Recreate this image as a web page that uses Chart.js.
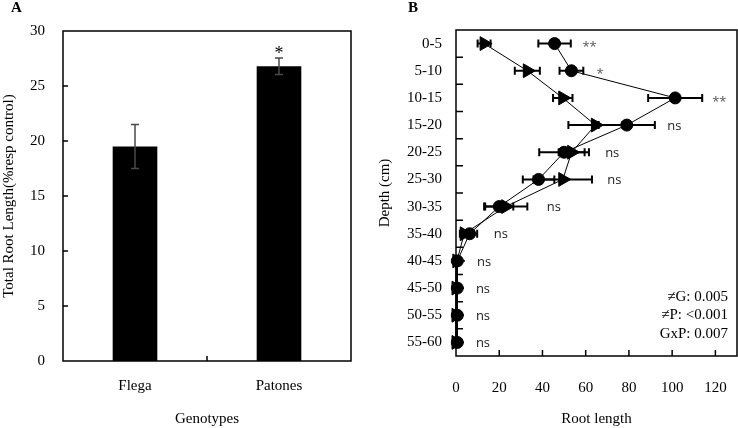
<!DOCTYPE html>
<html>
<head>
<meta charset="utf-8">
<script src="https://cdn.jsdelivr.net/npm/chart.js@4.4.0/dist/chart.umd.min.js"></script>
<style>
  html, body { margin: 0; padding: 0; background: #fff; }
  #wrap { position: relative; width: 738px; height: 428px; overflow: hidden; }
  canvas { position: absolute; top: 0; }
  #ca { left: 0; }
  #cb { left: 370px; }
  .tag { position: absolute; top: -1px; font: bold 15px "Liberation Serif", serif; }
</style>
</head>
<body>
<div id="wrap">
  <canvas id="ca" width="370" height="428"></canvas>
  <canvas id="cb" width="368" height="428"></canvas>
  <div class="tag" style="left:11px">A</div>
  <div class="tag" style="left:408px">B</div>
</div>
<script>
// panel A
const genotypes = ['Flega', 'Patones'];
const totalRoot = [19.5, 26.8];
const totalRootErr = [2.0, 0.75];
const totalRootSig = ['', '*'];

// panel B
const depths = ['0-5', '5-10', '10-15', '15-20', '20-25', '25-30', '30-35', '35-40', '40-45', '45-50', '50-55', '55-60'];
const circleLength = [45.6, 53.4, 101.4, 79, 50, 38.2, 20, 6.3, 0.6, 0.6, 0.6, 0.6];
const circleErr = [7.5, 5.5, 12.5, 13, 11.5, 7.3, 6.5, 3.5, 0.4, 0.3, 0.3, 0.3];
const triangleLength = [13, 33, 49.4, 64.5, 53.5, 49.4, 23, 3.8, 0.4, 0, 0, 0];
const triangleErr = [3, 5.8, 4.5, 12.5, 6, 13.5, 10, 2, 0.3, 0.2, 0.2, 0.2];
const depthSig = ['**', '*', '**', 'ns', 'ns', 'ns', 'ns', 'ns', 'ns', 'ns', 'ns', 'ns'];
const depthSigX = [58.5, 65, 118.5, 97.7, 69, 70, 42, 17.5, 9.7, 9.2, 9.2, 9.2];
const statsLines = ['\u2260G: 0.005', '\u2260P: <0.001', 'GxP: 0.007'];

const serif = '"Liberation Serif", "Times New Roman", serif';
Chart.defaults.font.family = serif;
Chart.defaults.font.size = 15;
Chart.defaults.color = '#000';

// 枠と内向きの目盛り
const frame = {
  id: 'frame',
  afterDraw(chart, args, opts) {
    const { ctx, chartArea: a } = chart;
    ctx.save();
    ctx.strokeStyle = '#000';
    ctx.lineWidth = 1.5;
    ctx.strokeRect(a.left, a.top, a.right - a.left, a.bottom - a.top);
    ctx.beginPath();
    (opts.xTicks || []).forEach(v => {
      const px = chart.scales.x.getPixelForValue(v);
      ctx.moveTo(px, a.bottom);
      ctx.lineTo(px, a.bottom - opts.xLen);
    });
    (opts.yTicks || []).forEach(v => {
      const py = chart.scales.y.getPixelForValue(v);
      ctx.moveTo(a.left, py);
      ctx.lineTo(a.left + opts.yLen, py);
    });
    ctx.stroke();
    ctx.restore();
  }
};

// エラーバー
const drawErrors = (chart, opts) => {
  const { ctx } = chart;
  ctx.save();
  ctx.strokeStyle = opts.color;
  ctx.lineWidth = opts.width;
  opts.sets.forEach(set => {
    const meta = chart.getDatasetMeta(set.ds);
    const values = chart.data.datasets[set.ds].data;
    meta.data.forEach((el, j) => {
      const v = values[j], e = set.err[j];
      ctx.beginPath();
      if (opts.horizontal) {
        const x1 = chart.scales.x.getPixelForValue(v - e);
        const x2 = chart.scales.x.getPixelForValue(v + e);
        ctx.moveTo(x1, el.y); ctx.lineTo(x2, el.y);
        ctx.moveTo(x1, el.y - opts.cap); ctx.lineTo(x1, el.y + opts.cap);
        ctx.moveTo(x2, el.y - opts.cap); ctx.lineTo(x2, el.y + opts.cap);
      } else {
        const y1 = chart.scales.y.getPixelForValue(v + e);
        const y2 = chart.scales.y.getPixelForValue(v - e);
        ctx.moveTo(el.x, y1); ctx.lineTo(el.x, y2);
        ctx.moveTo(el.x - opts.cap, y1); ctx.lineTo(el.x + opts.cap, y1);
        ctx.moveTo(el.x - opts.cap, y2); ctx.lineTo(el.x + opts.cap, y2);
      }
      ctx.stroke();
    });
  });
  ctx.restore();
};
const errorBars = {
  id: 'errorBars',
  beforeDatasetsDraw(chart, args, opts) { if (!opts.front) drawErrors(chart, opts); },
  afterDatasetsDraw(chart, args, opts) { if (opts.front) drawErrors(chart, opts); }
};

// 有意差の記号・テキスト
const notes = {
  id: 'notes',
  afterDraw(chart, args, opts) {
    const { ctx, chartArea: a } = chart;
    ctx.save();
    (opts.items || []).forEach(it => {
      ctx.font = it.font;
      ctx.fillStyle = it.color || '#000';
      ctx.textAlign = it.align || 'left';
      ctx.textBaseline = it.baseline || 'middle';
      ctx.fillText(it.text, it.x(chart), it.y(chart));
    });
    (opts.stats || []).forEach((t, i) => {
      ctx.font = '15px ' + serif;
      ctx.fillStyle = '#000';
      ctx.textAlign = 'right';
      ctx.textBaseline = 'middle';
      ctx.fillText(t, a.right - 9, a.bottom - 59 + i * 18.5);
    });
    ctx.restore();
  }
};

// 軸ラベルのはみ出し分の余白をなくす
const noPad = s => { s.paddingLeft = 0; s.paddingRight = 0; s.paddingTop = 0; s.paddingBottom = 0; };

// A: 棒グラフ
new Chart(document.getElementById('ca'), {
  type: 'bar',
  data: {
    labels: genotypes,
    datasets: [{
      data: totalRoot,
      backgroundColor: '#000',
      borderWidth: 0,
      categoryPercentage: 1,
      barPercentage: 0.31
    }]
  },
  options: {
    responsive: false,
    animation: false,
    layout: { autoPadding: false, padding: { top: 31, right: 19, left: 0, bottom: 0 } },
    plugins: {
      legend: { display: false },
      tooltip: { enabled: false },
      frame: { xTicks: [0.5], yTicks: [5, 10, 15, 20, 25], xLen: 5, yLen: 5 },
      errorBars: { front: true, color: '#4a4a4a', width: 1.5, cap: 4, sets: [{ ds: 0, err: totalRootErr }] },
      notes: {
        items: totalRootSig.map((s, i) => ({
          text: s,
          font: '18px ' + serif,
          align: 'center',
          baseline: 'alphabetic',
          x: c => c.getDatasetMeta(0).data[i].x,
          y: c => c.scales.y.getPixelForValue(totalRoot[i] + totalRootErr[i]) + 1
        }))
      }
    },
    scales: {
      x: {
        grid: { display: false, drawTicks: false },
        border: { display: false },
        ticks: { padding: 16 },
        title: { display: true, text: 'Genotypes', padding: { top: 0, bottom: 0 } },
        afterFit: s => { s.height = 67; noPad(s); }
      },
      y: {
        min: 0, max: 30,
        grid: { display: false, drawTicks: false },
        border: { display: false },
        ticks: { stepSize: 5, padding: 18 },
        title: { display: true, text: 'Total Root Length(%resp control)', padding: { top: 0, bottom: 0 } },
        afterFit: s => { s.width = 63; noPad(s); }
      }
    }
  },
  plugins: [frame, errorBars, notes]
});

// B: 深さ別の根長
const sans = '"Open Sans", "Liberation Sans", sans-serif';
new Chart(document.getElementById('cb'), {
  type: 'line',
  data: {
    labels: depths,
    datasets: [
      {
        data: circleLength,
        borderColor: '#000', borderWidth: 1,
        pointStyle: 'circle', pointRadius: 6,
        pointBackgroundColor: '#000', pointBorderColor: '#000',
        clip: false
      },
      {
        data: triangleLength,
        borderColor: '#000', borderWidth: 1,
        pointStyle: 'triangle', rotation: 90, pointRadius: 8,
        pointBackgroundColor: '#000', pointBorderColor: '#000',
        clip: false
      }
    ]
  },
  options: {
    indexAxis: 'y',
    responsive: false,
    animation: false,
    layout: { autoPadding: false, padding: { top: 30, right: 1, left: 0, bottom: 0 } },
    plugins: {
      legend: { display: false },
      tooltip: { enabled: false },
      frame: {
        xTicks: [20, 40, 60, 80, 100, 120],
        yTicks: depths.slice(1).map((d, i) => i + 0.5),
        xLen: 6, yLen: 7
      },
      errorBars: {
        front: false, horizontal: true, color: '#000', width: 2, cap: 4,
        sets: [{ ds: 0, err: circleErr }, { ds: 1, err: triangleErr }]
      },
      notes: {
        items: depthSig.map((s, i) => ({
          text: s,
          font: '13px ' + sans,
          color: s === 'ns' ? '#222' : '#555',
          x: c => c.scales.x.getPixelForValue(depthSigX[i]),
          y: c => c.scales.y.getPixelForValue(i) + (s === 'ns' ? 1 : 4)
        })),
        stats: statsLines
      }
    },
    scales: {
      x: {
        type: 'linear',
        min: 0, max: 130,
        grid: { display: false, drawTicks: false },
        border: { display: false },
        ticks: { stepSize: 20, includeBounds: false, padding: 23 },
        title: { display: true, text: 'Root length', padding: { top: 0, bottom: 0 } },
        afterFit: s => { s.height = 72; noPad(s); }
      },
      y: {
        type: 'category',
        offset: true,
        grid: { display: false, drawTicks: false, offset: true },
        border: { display: false },
        ticks: { padding: 14 },
        title: { display: true, text: 'Depth (cm)', padding: { top: 6, bottom: 0 } },
        afterFit: s => { s.width = 86; noPad(s); }
      }
    }
  },
  plugins: [frame, errorBars, notes]
});
</script>
</body>
</html>
